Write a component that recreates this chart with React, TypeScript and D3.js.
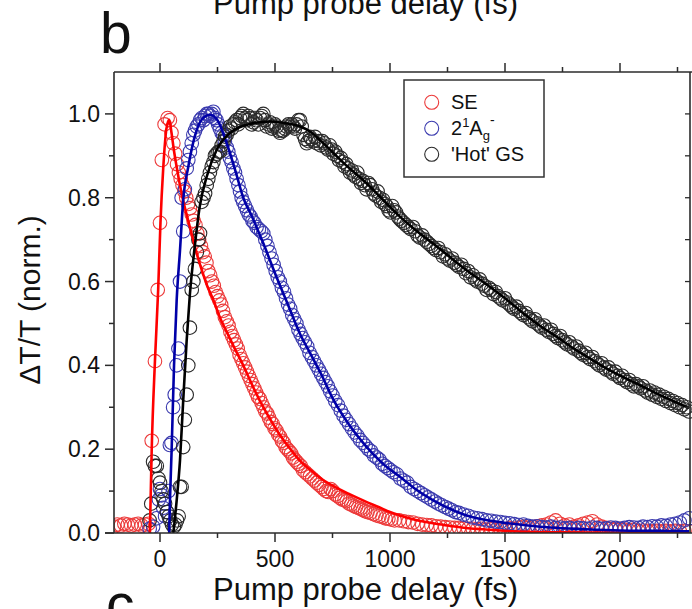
import React from 'react';
import * as d3 from 'd3';

const W = 692;
const H = 609;
const xDomain: [number, number] = [-200, 2300];
const yDomain: [number, number] = [0, 1.1];
const xMajorTicks = [0, 500, 1000, 1500, 2000];
const xMinorTicks = [250, 750, 1250, 1750, 2250];
const yMajorTicks = [0, 0.2, 0.4, 0.6, 0.8, 1.0];
const yMinorTicks = [0.1, 0.3, 0.5, 0.7, 0.9];
const yRightTicks = [0.1, 0.2, 0.3, 0.4, 0.5, 0.6, 0.7, 0.8, 0.9, 1.0];
const xTitle = 'Pump probe delay (fs)';
const yTitle = 'ΔT/T (norm.)';

// SE: stimulated emission (red)
const seObs: [number, number][] = [
  [-200, 0.015], [-185, 0.02], [-170, 0.018], [-155, 0.022], [-140, 0.02], [-125, 0.018], [-110, 0.02], [-95, 0.022], [-80, 0.018], [-65, 0.02], [-50, 0.022],
  [-36, 0.22], [-22, 0.41], [-10, 0.58], [0, 0.74], [8, 0.89], [20, 0.975], [33, 0.99], [43, 0.985], [50, 0.955], [58, 0.93], [66, 0.905], [74, 0.88], [82, 0.86], [90, 0.845], [98, 0.83],
  [106, 0.815], [114, 0.8], [122, 0.785], [130, 0.775], [138, 0.76], [146, 0.745], [154, 0.735], [162, 0.715], [170, 0.7], [178, 0.685], [186, 0.67], [194, 0.66], [202, 0.645],
  [210, 0.625], [218, 0.615], [226, 0.6], [234, 0.59], [242, 0.575], [250, 0.565], [258, 0.555], [266, 0.545], [274, 0.53], [282, 0.515], [290, 0.505], [298, 0.495], [306, 0.48],
  [314, 0.47], [322, 0.46], [330, 0.45], [338, 0.44], [346, 0.425], [354, 0.415], [362, 0.405], [370, 0.395], [378, 0.385], [386, 0.375], [394, 0.365], [402, 0.355], [410, 0.345],
  [418, 0.335], [426, 0.325], [434, 0.32], [442, 0.31], [450, 0.3], [458, 0.29], [466, 0.285], [474, 0.275], [482, 0.265], [490, 0.26], [498, 0.25], [506, 0.245], [514, 0.235],
  [522, 0.23], [530, 0.22], [538, 0.215], [546, 0.205], [554, 0.2], [562, 0.195], [570, 0.19], [578, 0.18], [586, 0.175], [594, 0.17], [602, 0.165], [612, 0.16], [622, 0.15],
  [632, 0.145], [642, 0.14], [652, 0.135], [662, 0.13], [672, 0.125], [682, 0.12], [692, 0.115], [702, 0.11], [712, 0.105], [722, 0.1], [732, 0.098], [742, 0.105], [752, 0.1],
  [762, 0.092], [772, 0.088], [782, 0.084], [792, 0.08], [802, 0.078], [812, 0.076], [822, 0.07], [832, 0.068], [842, 0.065], [852, 0.062], [862, 0.06], [872, 0.058], [882, 0.055],
  [892, 0.052], [902, 0.05], [915, 0.048], [928, 0.045], [941, 0.042], [954, 0.04], [967, 0.038], [980, 0.035], [993, 0.034], [1006, 0.032], [1020, 0.03], [1040, 0.03], [1060, 0.028],
  [1080, 0.026], [1100, 0.025], [1120, 0.022], [1140, 0.02], [1160, 0.019], [1180, 0.018], [1200, 0.016], [1220, 0.015], [1240, 0.014], [1260, 0.013], [1280, 0.012], [1300, 0.012],
  [1320, 0.011], [1340, 0.01], [1360, 0.01], [1380, 0.009], [1400, 0.01], [1420, 0.008], [1440, 0.009], [1460, 0.008], [1480, 0.01], [1500, 0.009], [1520, 0.012], [1540, 0.01],
  [1560, 0.013], [1580, 0.015], [1600, 0.012], [1620, 0.014], [1640, 0.016], [1660, 0.018], [1680, 0.02], [1700, 0.025], [1720, 0.03], [1740, 0.022], [1760, 0.018], [1780, 0.02],
  [1800, 0.015], [1820, 0.018], [1840, 0.022], [1860, 0.025], [1880, 0.028], [1900, 0.02], [1920, 0.015], [1940, 0.012], [1960, 0.01], [1980, 0.008], [2000, 0.01], [2020, 0.008],
  [2040, 0.006], [2060, 0.008], [2080, 0.005], [2100, 0.006], [2120, 0.005], [2140, 0.004], [2160, 0.005], [2180, 0.004], [2200, 0.005], [2220, 0.004], [2240, 0.005], [2260, 0.004],
  [2280, 0.005], [2300, 0.004],
];

const seFit: [number, number][] = [
  [-44, 0], [-36, 0.2], [-22, 0.41], [-8, 0.58], [2, 0.74], [14, 0.87], [28, 0.965], [40, 0.986], [50, 0.955], [60, 0.915], [72, 0.875], [85, 0.835], [100, 0.795],
  [118, 0.755], [137, 0.715], [158, 0.67], [180, 0.63], [205, 0.59], [232, 0.556], [260, 0.515], [290, 0.48], [325, 0.44], [362, 0.4], [395, 0.36], [430, 0.32], [470, 0.28],
  [514, 0.24], [560, 0.205], [609, 0.172], [655, 0.15], [700, 0.13], [760, 0.11], [826, 0.092], [890, 0.076], [950, 0.062], [1000, 0.05], [1043, 0.042], [1100, 0.033],
  [1150, 0.027], [1200, 0.022], [1261, 0.017], [1330, 0.012], [1400, 0.009], [1478, 0.006], [1600, 0.003], [1750, 0.0015], [1900, 0.0008], [2100, 0.0003], [2300, 0.0001],
];

// 2^1Ag- (blue)
const agObs: [number, number][] = [
  [-45, 0.01], [-30, 0.015], [-15, 0.035], [-5, 0.08], [0, 0.105], [7, 0.09], [14, 0.06], [22, 0.04], [30, 0.05], [37, 0.1], [43, 0.21], [50, 0.215], [57, 0.3], [64, 0.33],
  [72, 0.4], [80, 0.44], [87, 0.6], [94, 0.8], [101, 0.72], [108, 0.82], [116, 0.87], [123, 0.89], [130, 0.91], [138, 0.93], [145, 0.95], [152, 0.96], [160, 0.97], [167, 0.975],
  [174, 0.985], [181, 0.99], [189, 0.985], [196, 0.995], [203, 1.0], [210, 1.0], [218, 0.995], [225, 1.0], [232, 1.005], [239, 0.99], [246, 0.985], [253, 0.975], [260, 0.965],
  [268, 0.955], [275, 0.95], [282, 0.935], [290, 0.92], [297, 0.91], [304, 0.895], [311, 0.885], [319, 0.87], [326, 0.86], [333, 0.845], [341, 0.83], [348, 0.815], [355, 0.8],
  [362, 0.79], [370, 0.78], [378, 0.77], [386, 0.76], [394, 0.755], [402, 0.745], [410, 0.74], [420, 0.73], [430, 0.725], [440, 0.72], [449, 0.715], [458, 0.7], [467, 0.685],
  [476, 0.67], [485, 0.655], [494, 0.64], [503, 0.625], [512, 0.61], [521, 0.6], [530, 0.585], [539, 0.575], [548, 0.56], [557, 0.545], [566, 0.535], [575, 0.52], [584, 0.51],
  [593, 0.5], [602, 0.485], [611, 0.475], [620, 0.465], [630, 0.455], [640, 0.445], [650, 0.43], [660, 0.42], [670, 0.41], [680, 0.4], [690, 0.39], [700, 0.38], [710, 0.37],
  [720, 0.36], [730, 0.35], [740, 0.338], [750, 0.328], [762, 0.315], [774, 0.305], [786, 0.292], [798, 0.28], [810, 0.27], [822, 0.26], [834, 0.25], [846, 0.24], [858, 0.232],
  [870, 0.222], [882, 0.215], [894, 0.208], [906, 0.2], [918, 0.195], [930, 0.185], [942, 0.18], [954, 0.175], [966, 0.165], [978, 0.16], [990, 0.155], [1002, 0.15], [1015, 0.145],
  [1030, 0.14], [1045, 0.13], [1060, 0.125], [1075, 0.12], [1090, 0.11], [1105, 0.105], [1120, 0.1], [1135, 0.095], [1150, 0.09], [1165, 0.085], [1180, 0.08], [1195, 0.075],
  [1210, 0.07], [1225, 0.066], [1240, 0.062], [1255, 0.058], [1270, 0.054], [1285, 0.05], [1300, 0.048], [1320, 0.044], [1340, 0.041], [1360, 0.037], [1380, 0.035], [1400, 0.033],
  [1420, 0.03], [1440, 0.029], [1460, 0.027], [1480, 0.026], [1500, 0.024], [1520, 0.023], [1540, 0.021], [1560, 0.019], [1580, 0.02], [1600, 0.017], [1620, 0.015], [1640, 0.016],
  [1660, 0.014], [1680, 0.013], [1700, 0.015], [1720, 0.012], [1740, 0.013], [1760, 0.011], [1780, 0.012], [1800, 0.01], [1820, 0.012], [1840, 0.011], [1860, 0.01], [1880, 0.013],
  [1900, 0.012], [1920, 0.01], [1940, 0.011], [1960, 0.013], [1980, 0.012], [2000, 0.01], [2020, 0.012], [2040, 0.014], [2060, 0.013], [2080, 0.012], [2100, 0.015], [2120, 0.014],
  [2140, 0.016], [2160, 0.015], [2180, 0.018], [2200, 0.017], [2220, 0.02], [2240, 0.022], [2260, 0.025], [2280, 0.03], [2300, 0.035],
];

const agFit: [number, number][] = [
  [40, 0], [43.5, 0.08], [50.7, 0.2], [61, 0.4], [72.5, 0.556], [87, 0.675], [101, 0.795], [123, 0.874], [151, 0.946], [181, 0.986], [217, 0.998], [250, 0.985], [290, 0.93],
  [330, 0.86], [362, 0.8], [400, 0.755], [450, 0.69], [507, 0.61], [560, 0.54], [609, 0.475], [652, 0.43], [700, 0.38], [752, 0.32], [820, 0.26], [899, 0.205], [970, 0.165],
  [1043, 0.134], [1110, 0.105], [1188, 0.078], [1260, 0.058], [1333, 0.042], [1400, 0.033], [1478, 0.026], [1600, 0.018], [1700, 0.013], [1850, 0.009], [2000, 0.006],
  [2150, 0.005], [2300, 0.004],
];

// 'Hot' GS (black)
const gsObs: [number, number][] = [
  [-45, 0.03], [-38, 0.07], [-30, 0.17], [-22, 0.16], [-14, 0.16], [-7, 0.13], [0, 0.12], [7, 0.1], [15, 0.08], [22, 0.07], [30, 0.05], [38, 0.04], [45, 0.03], [52, 0.02],
  [60, 0.015], [67, 0.02], [74, 0.03], [81, 0.04], [87, 0.11], [94, 0.11], [101, 0.205], [108, 0.27], [116, 0.33], [123, 0.4], [130, 0.49], [138, 0.58], [145, 0.6], [152, 0.63],
  [160, 0.67], [167, 0.7], [174, 0.715], [181, 0.79], [189, 0.8], [196, 0.81], [203, 0.83], [210, 0.845], [217, 0.86], [225, 0.875], [232, 0.885], [239, 0.9], [246, 0.905],
  [254, 0.91], [261, 0.91], [268, 0.925], [276, 0.935], [283, 0.946], [290, 0.95], [297, 0.96], [304, 0.97], [312, 0.965], [319, 0.975], [326, 0.98], [333, 0.985], [340, 0.975],
  [348, 0.99], [355, 0.995], [362, 1.0], [370, 0.99], [377, 0.985], [384, 0.995], [391, 0.99], [398, 0.975], [406, 0.98], [413, 0.99], [420, 0.985], [428, 0.975], [435, 0.99],
  [442, 0.995], [449, 1.0], [456, 0.985], [464, 0.97], [471, 0.975], [478, 0.98], [486, 0.965], [493, 0.97], [500, 0.975], [507, 0.97], [515, 0.96], [522, 0.955], [529, 0.96],
  [536, 0.96], [543, 0.965], [551, 0.97], [558, 0.975], [565, 0.97], [573, 0.975], [580, 0.97], [587, 0.965], [594, 0.975], [602, 0.985], [609, 0.985], [616, 0.97], [624, 0.95],
  [631, 0.94], [638, 0.93], [645, 0.935], [652, 0.945], [658, 0.94], [666, 0.935], [674, 0.945], [682, 0.93], [690, 0.935], [698, 0.925], [706, 0.935], [714, 0.93], [722, 0.92],
  [730, 0.915], [738, 0.925], [746, 0.915], [754, 0.905], [762, 0.91], [770, 0.9], [778, 0.89], [786, 0.895], [794, 0.885], [802, 0.875], [810, 0.88], [818, 0.87], [826, 0.86],
  [834, 0.865], [842, 0.855], [850, 0.85], [858, 0.86], [866, 0.845], [874, 0.835], [882, 0.84], [890, 0.83], [898, 0.82], [906, 0.835], [914, 0.83], [922, 0.82], [930, 0.81],
  [938, 0.805], [946, 0.815], [954, 0.8], [962, 0.79], [970, 0.795], [978, 0.785], [986, 0.78], [994, 0.77], [1002, 0.765], [1010, 0.78], [1018, 0.77], [1026, 0.765], [1034, 0.755],
  [1042, 0.75], [1050, 0.745], [1060, 0.74], [1070, 0.735], [1080, 0.73], [1090, 0.725], [1100, 0.73], [1110, 0.72], [1120, 0.71], [1130, 0.705], [1140, 0.71], [1150, 0.7],
  [1160, 0.695], [1170, 0.69], [1180, 0.685], [1190, 0.68], [1200, 0.675], [1210, 0.68], [1220, 0.67], [1230, 0.66], [1240, 0.665], [1250, 0.655], [1260, 0.65], [1270, 0.655],
  [1280, 0.645], [1290, 0.64], [1300, 0.635], [1310, 0.64], [1320, 0.63], [1330, 0.62], [1340, 0.625], [1350, 0.61], [1360, 0.615], [1370, 0.605], [1380, 0.6], [1390, 0.605],
  [1400, 0.595], [1410, 0.59], [1420, 0.58], [1430, 0.585], [1440, 0.58], [1450, 0.57], [1460, 0.575], [1470, 0.565], [1480, 0.56], [1490, 0.555], [1500, 0.56], [1510, 0.55],
  [1520, 0.545], [1530, 0.54], [1540, 0.535], [1550, 0.54], [1560, 0.53], [1570, 0.525], [1580, 0.52], [1590, 0.525], [1600, 0.515], [1610, 0.51], [1620, 0.505], [1630, 0.51],
  [1640, 0.5], [1650, 0.495], [1660, 0.49], [1670, 0.495], [1680, 0.485], [1690, 0.48], [1700, 0.485], [1710, 0.475], [1720, 0.47], [1730, 0.465], [1740, 0.47], [1750, 0.46],
  [1760, 0.455], [1770, 0.45], [1780, 0.455], [1790, 0.445], [1800, 0.44], [1810, 0.445], [1820, 0.435], [1830, 0.43], [1840, 0.425], [1850, 0.43], [1860, 0.42], [1870, 0.415],
  [1880, 0.42], [1890, 0.41], [1900, 0.405], [1910, 0.4], [1920, 0.405], [1930, 0.395], [1940, 0.39], [1950, 0.395], [1960, 0.385], [1970, 0.38], [1980, 0.385], [1990, 0.375],
  [2000, 0.37], [2010, 0.375], [2020, 0.365], [2030, 0.36], [2040, 0.365], [2050, 0.355], [2060, 0.35], [2070, 0.355], [2080, 0.35], [2090, 0.345], [2100, 0.35], [2110, 0.34],
  [2120, 0.335], [2130, 0.34], [2140, 0.33], [2150, 0.335], [2160, 0.325], [2170, 0.33], [2180, 0.32], [2190, 0.325], [2200, 0.315], [2210, 0.32], [2220, 0.31], [2230, 0.315],
  [2240, 0.305], [2250, 0.31], [2260, 0.3], [2270, 0.305], [2280, 0.295], [2290, 0.3], [2300, 0.29],
];

const gsFit: [number, number][] = [
  [58, 0], [72.5, 0.078], [87, 0.174], [101, 0.317], [116, 0.46], [130, 0.57], [151, 0.683], [173, 0.78], [203, 0.85], [246, 0.914], [303, 0.954], [391, 0.976], [478, 0.982],
  [565, 0.976], [609, 0.97], [652, 0.958], [700, 0.935], [752, 0.908], [800, 0.882], [850, 0.858], [899, 0.834], [950, 0.806], [1000, 0.778], [1043, 0.755], [1100, 0.728],
  [1150, 0.706], [1188, 0.69], [1250, 0.663], [1333, 0.627], [1435, 0.587], [1500, 0.56], [1580, 0.524], [1650, 0.495], [1725, 0.468], [1800, 0.44], [1870, 0.416], [1940, 0.393],
  [2014, 0.372], [2090, 0.352], [2159, 0.333], [2230, 0.315], [2300, 0.298],
];

const FONT = '"Liberation Sans", Arial, Helvetica, sans-serif';

export default function App() {
  const x = d3.scaleLinear().domain(xDomain).range([114, 689]);
  const y = d3.scaleLinear().domain(yDomain).range([533, 72]);
  const line = d3
    .line<[number, number]>()
    .x((d) => x(d[0]))
    .y((d) => y(d[1]))
    .curve(d3.curveMonotoneX);

  const series = [
    { obs: seObs, fit: seFit, circle: '#ec3a3a', line: '#ff0000' },
    { obs: agObs, fit: agFit, circle: '#3a3aae', line: '#0000a8' },
    { obs: gsObs, fit: gsFit, circle: '#2a2a2a', line: '#000000' },
  ];

  const x0 = x.range()[0];
  const x1 = x.range()[1];
  const yB = y(0);
  const yT = y(1.1);
  const axisColor = '#2b2b2b';

  const legendItems = [
    { color: '#ec3a3a', key: 'se' },
    { color: '#3a3aae', key: 'ag' },
    { color: '#2a2a2a', key: 'gs' },
  ];

  return (
    <svg
      width={W}
      height={H}
      style={{ position: 'absolute', left: 0, top: 0, background: '#fff' }}
      fontFamily={FONT}
    >
      <defs>
        <clipPath id="plotClip">
          <rect x={x0} y={yT} width={x1 - x0 + 3} height={yB - yT} />
        </clipPath>
      </defs>
      <rect x={0} y={0} width={W} height={H} fill="#fff" />

      {/* previous panel title and panel letters */}
      <text x={213} y={14} fontSize={31} fill="#111">{xTitle}</text>
      <text x={100} y={53} fontSize={57} fill="#111">b</text>
      <text x={106} y={624} fontSize={57} fill="#111">c</text>

      <g clipPath="url(#plotClip)">
        {series.map((s, i) => (
          <g key={'c' + i}>
            {s.obs.map((d, j) => (
              <circle key={j} cx={x(d[0])} cy={y(d[1])} r={6.8} fill="none" stroke={s.circle} strokeWidth={1.1} />
            ))}
          </g>
        ))}
        {series.map((s, i) => (
          <path key={'l' + i} d={line(s.fit) || ''} fill="none" stroke={s.line} strokeWidth={2.6} />
        ))}
      </g>

      {/* frame */}
      <line x1={x0} x2={x0} y1={yT} y2={yB} stroke={axisColor} strokeWidth={1.6} />
      <line x1={x0} x2={W} y1={yT} y2={yT} stroke={axisColor} strokeWidth={1.6} />
      <line x1={x0 - 9} x2={W} y1={yB} y2={yB} stroke={axisColor} strokeWidth={1.6} />
      <line x1={x1 + 1} x2={x1 + 1} y1={yT} y2={yB} stroke={axisColor} strokeWidth={1.6} />

      {/* bottom and top ticks */}
      {xMajorTicks.map((t) => (
        <g key={'bx' + t}>
          <line x1={x(t)} x2={x(t)} y1={yB} y2={yB + 9} stroke={axisColor} strokeWidth={1.5} />
          <text x={x(t)} y={567} fontSize={23} textAnchor="middle" fill="#111">{t}</text>
          <line x1={x(t)} x2={x(t)} y1={yT} y2={yT - 9} stroke={axisColor} strokeWidth={1.5} />
        </g>
      ))}
      {xMinorTicks.map((t) => (
        <g key={'mx' + t}>
          <line x1={x(t)} x2={x(t)} y1={yB} y2={yB + 5} stroke={axisColor} strokeWidth={1.5} />
          <line x1={x(t)} x2={x(t)} y1={yT} y2={yT - 5} stroke={axisColor} strokeWidth={1.5} />
        </g>
      ))}

      {/* left ticks */}
      {yMajorTicks.map((v) => (
        <g key={'ly' + v}>
          <line x1={x0} x2={x0 - 9} y1={y(v)} y2={y(v)} stroke={axisColor} strokeWidth={1.5} />
          <text x={100} y={y(v) + 8} fontSize={23} textAnchor="end" fill="#111">{v.toFixed(1)}</text>
        </g>
      ))}
      {yMinorTicks.map((v) => (
        <line key={'my' + v} x1={x0} x2={x0 - 5} y1={y(v)} y2={y(v)} stroke={axisColor} strokeWidth={1.5} />
      ))}
      {/* right ticks */}
      {yRightTicks.map((v) => (
        <line key={'ry' + v} x1={x1 + 1} x2={x1 - 4} y1={y(v)} y2={y(v)} stroke={axisColor} strokeWidth={1.3} />
      ))}

      {/* axis titles */}
      <text x={213} y={600} fontSize={31} fill="#111">{xTitle}</text>
      <text transform="translate(40,300) rotate(-90)" fontSize={30} textAnchor="middle" fill="#111">{yTitle}</text>

      {/* legend */}
      <rect x={404} y={80} width={140} height={97} fill="#fff" stroke="#333" strokeWidth={1.5} />
      {legendItems.map((it, i) => (
        <circle key={it.key} cx={431.7} cy={102.3 + i * 26} r={7} fill="none" stroke={it.color} strokeWidth={1.1} />
      ))}
      <text x={451} y={109} fontSize={20} fill="#111">SE</text>
      <text x={451} y={135} fontSize={20} fill="#111">
        2<tspan fontSize={13} dy={-8}>1</tspan>
        <tspan dy={8}>A</tspan>
        <tspan fontSize={13} dy={5}>g</tspan>
        <tspan fontSize={14} dy={-15}>-</tspan>
      </text>
      <text x={451} y={161} fontSize={20} fill="#111">'Hot' GS</text>
    </svg>
  );
}
